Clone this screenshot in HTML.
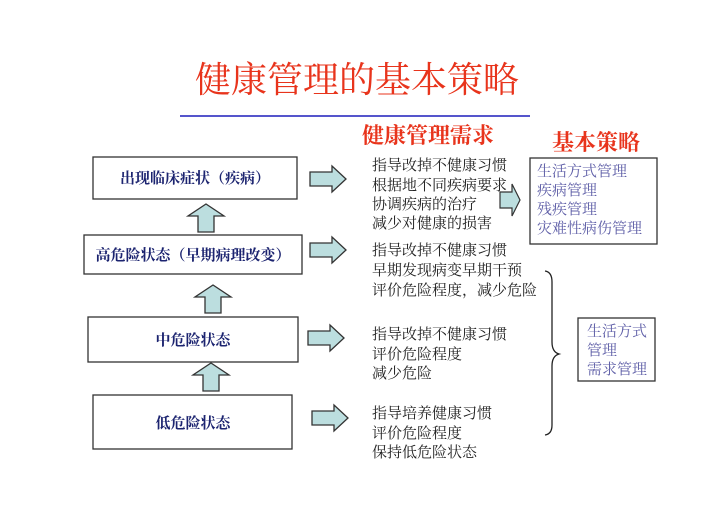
<!DOCTYPE html>
<html><head><meta charset="utf-8"><style>
html,body{margin:0;padding:0;background:#fff;width:720px;height:509px;overflow:hidden}
svg text{font-family:"Liberation Serif","Noto Serif CJK SC","Noto Sans CJK SC",serif}
</style></head><body>
<svg width="720" height="509" viewBox="0 0 720 509" xmlns="http://www.w3.org/2000/svg">
<defs>
<g id="ra"><polygon points="0,-7 22,-7 22,-13 36,0 22,13 22,7 0,7" fill="#bcdedf" stroke="#333" stroke-width="1.3"/></g>
<g id="ua"><polygon points="-8,0 -8,-16 -18,-16 0,-28 18,-16 8,-16 8,0" fill="#bcdedf" stroke="#333" stroke-width="1.3"/></g>
</defs>
<text x="357" y="92" font-size="36" fill="#e8341c" text-anchor="middle">健康管理的基本策略</text>
<line x1="180" y1="116" x2="530" y2="116" stroke="#5555cc" stroke-width="2"/>
<text x="362" y="143" font-size="22" fill="#e8341c" font-weight="bold">健康管理需求</text>
<text x="552" y="150" font-size="22" fill="#e8341c" font-weight="bold">基本策略</text>

<g fill="#fff" stroke="#333" stroke-width="1.3">
<rect x="93" y="157" width="204" height="42"/>
<rect x="84" y="235" width="218" height="39"/>
<rect x="88" y="317" width="210" height="45"/>
<rect x="93" y="395" width="199" height="54"/>
<rect x="530" y="158" width="127" height="86"/>
<rect x="578" y="318" width="77" height="63"/>
</g>
<g font-size="15" fill="#1c2470" text-anchor="middle" font-weight="bold">
<text x="195" y="183">出现临床症状（疾病）</text>
<text x="193" y="260">高危险状态（早期病理改变）</text>
<text x="193" y="345">中危险状态</text>
<text x="193" y="428">低危险状态</text>
</g>
<use href="#ua" x="206" y="232"/>
<use href="#ua" x="213" y="313"/>
<use href="#ua" x="211" y="391"/>
<use href="#ra" x="310" y="179"/>
<use href="#ra" x="310" y="250"/>
<use href="#ra" x="308" y="338"/>
<use href="#ra" x="312" y="418"/>
<polygon points="500,192 512,192 512,184 520,200 512,216 512,208 500,208" fill="#bcdedf" stroke="#333" stroke-width="1.2"/>
<g font-size="15" fill="#222">
<text x="372" y="170">指导改掉不健康习惯</text>
<text x="372" y="190">根据地不同疾病要求</text>
<text x="372" y="209">协调疾病的治疗</text>
<text x="372" y="228">减少对健康的损害</text>
<text x="372" y="255">指导改掉不健康习惯</text>
<text x="372" y="275">早期发现病变早期干预</text>
<text x="372" y="295">评价危险程度，减少危险</text>
<text x="372" y="339">指导改掉不健康习惯</text>
<text x="372" y="359">评价危险程度</text>
<text x="372" y="378">减少危险</text>
<text x="372" y="418">指导培养健康习惯</text>
<text x="372" y="438">评价危险程度</text>
<text x="372" y="457">保持低危险状态</text>
</g>
<g font-size="15" fill="#6060a8">
<text x="537" y="176">生活方式管理</text>
<text x="537" y="195">疾病管理</text>
<text x="537" y="214">残疾管理</text>
<text x="537" y="233">灾难性病伤管理</text>
<text x="587" y="336">生活方式</text>
<text x="587" y="355">管理</text>
<text x="587" y="374">需求管理</text>
</g>
<path d="M545,271 Q552,272 552,282 L552,342 Q552,352 559,354 Q552,356 552,366 L552,425 Q552,434 545,435" fill="none" stroke="#222" stroke-width="1.3"/>
</svg>
</body></html>
